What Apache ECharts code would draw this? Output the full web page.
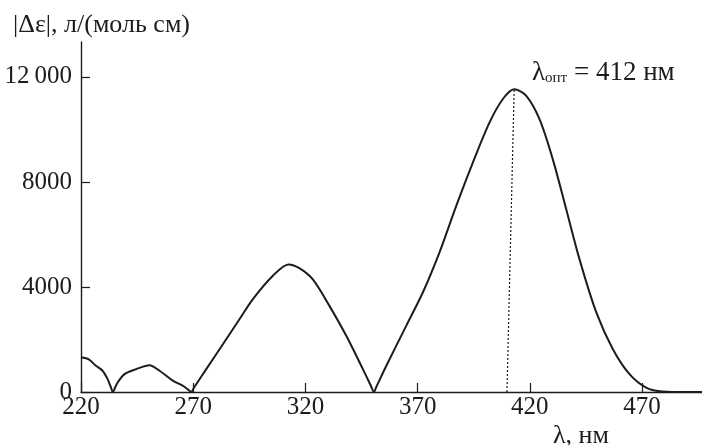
<!DOCTYPE html>
<html>
<head>
<meta charset="utf-8">
<script src="https://cdn.jsdelivr.net/npm/echarts@6/dist/echarts.min.js"></script>
<style>
  html, body { margin: 0; padding: 0; background: #fff; }
  #chart { width: 702px; height: 445px; }
</style>
</head>
<body>
<div id="chart"></div>
<script>
// длина волны, нм
const wavelengths = [
  220, 223.5, 226.5, 229.5, 231.8, 233.3, 234.2, 235.1, 236.4, 239.4,
  244.6, 250.5, 255, 260.9, 265.3, 268, 269.1, 270.3, 275.8, 284.7,
  290.6, 296.5, 305.4, 312.5, 317.3, 323.3, 330.7, 338.2, 345.6, 349.3,
  350.5, 351.7, 356, 364.9, 372.3, 379.7, 387.2, 394.6, 402, 407.9,
  413, 418.4, 424.3, 430.2, 436.2, 442.1, 449.6, 457, 464.4, 471.8,
  479.2, 490, 496.7
];
// |Δε|, л/(моль см)
const deltaEps = [
  1320, 1240, 1010, 820, 500, 190, 0, 150, 370, 680,
  870, 1020, 810, 430, 240, 70, 0, 160, 870, 2010,
  2770, 3530, 4420, 4860, 4720, 4290, 3280, 2140, 870, 210,
  0, 215, 990, 2520, 3790, 5310, 7090, 8740, 10260, 11150,
  11530, 11280, 10390, 8870, 6960, 5060, 3030, 1630, 680, 170,
  20, 0, 0
];

const xTicks = [220, 270, 320, 370, 420, 470];
const yTicks = [0, 4000, 8000, 12000];
const yTickLabels = ["0", "4000", "8000", "12\u2009000"];

// λопт: основание и вершина пунктирной линии
const optLine = [[409.8, 0], [413, 11530]];

const FONT = "'Liberation Serif', 'DejaVu Serif', serif";
const INK = "#1c1c1c";

const chart = echarts.init(document.getElementById("chart"));

chart.setOption({
  animation: false,
  grid: { left: 81, right: 0, top: 42, bottom: 53 },
  xAxis: {
    type: "value",
    min: 220,
    max: 496.7,
    axisLine: { lineStyle: { color: INK, width: 1.4 } },
    axisTick: { inside: true, length: 9, lineStyle: { color: INK, width: 1.2 }, customValues: xTicks },
    axisLabel: {
      customValues: xTicks,
      margin: 3,
      color: INK,
      fontFamily: FONT,
      fontSize: 25,
    },
    splitLine: { show: false },
  },
  yAxis: {
    type: "value",
    min: 0,
    max: 13330,
    axisLine: { show: true, lineStyle: { color: INK, width: 1.4 } },
    axisTick: { show: true, inside: true, length: 9, lineStyle: { color: INK, width: 1.2 }, customValues: yTicks },
    axisLabel: {
      customValues: yTicks,
      margin: 9,
      color: INK,
      fontFamily: FONT,
      fontSize: 25,
      formatter: (v) => yTickLabels[yTicks.indexOf(v)] ?? "",
    },
    splitLine: { show: false },
  },
  series: [
    {
      type: "line",
      data: wavelengths.map((x, i) => [x, deltaEps[i]]),
      showSymbol: false,
      smooth: 0.3,
      lineStyle: { color: INK, width: 2 },
      markLine: {
        silent: true,
        symbol: "none",
        label: { show: false },
        lineStyle: { color: INK, width: 1.2, type: [2, 2] },
        data: [[{ coord: optLine[0] }, { coord: optLine[1] }]],
      },
    },
  ],
  graphic: [
    {
      type: "text",
      left: 13,
      top: 12,
      style: { text: "|Δε|, л/(моль см)", font: `26px ${FONT}`, fill: INK },
    },
    {
      type: "text",
      left: 553,
      top: 423,
      style: { text: "λ, нм", font: `26px ${FONT}`, fill: INK },
    },
    {
      type: "text",
      left: 532,
      top: 59,
      style: {
        text: "{l|λ}{s|опт}{t| = 412 нм}",
        fill: INK,
        rich: {
          l: { fontFamily: FONT, fontSize: 27, lineHeight: 29, verticalAlign: "bottom", fill: INK },
          s: { fontFamily: FONT, fontSize: 15, lineHeight: 14, verticalAlign: "bottom", fill: INK },
          t: { fontFamily: FONT, fontSize: 27, lineHeight: 29, verticalAlign: "bottom", fill: INK },
        },
      },
    },
  ],
});
</script>
</body>
</html>
